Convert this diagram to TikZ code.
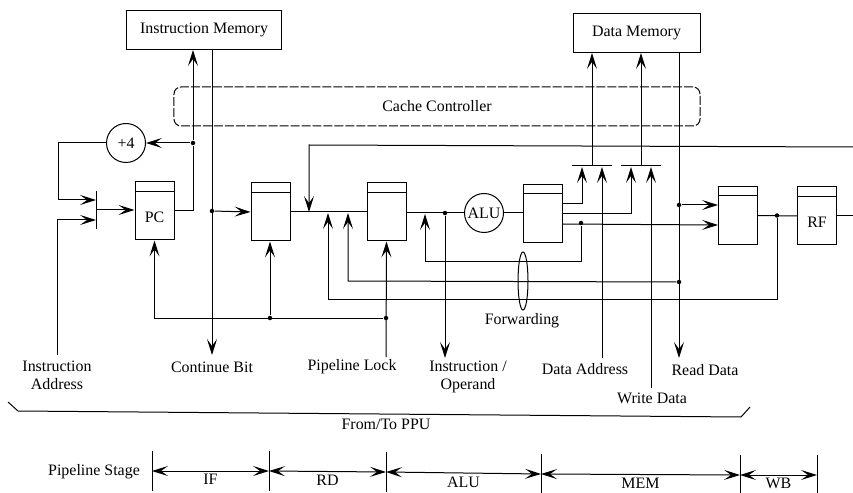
\documentclass[tikz,border=0pt]{standalone}
\usepackage{fontspec}
\setmainfont{Liberation Serif}
\usetikzlibrary{arrows.meta,positioning,shapes.geometric,calc}

\begin{document}
\begin{tikzpicture}[
  x=1bp, y=-1bp,
  every node/.style={font=\fontsize{16}{18}\selectfont, inner sep=0pt},
  every path/.style={line width=1bp},
  memory/.style={draw, minimum height=39bp},
  regbox/.style={draw, minimum width=39bp, minimum height=58bp},
  unit/.style={draw, circle, minimum size=39bp},
  dot/.style={fill, circle, minimum size=4.5bp},
  arr/.style={-{Stealth[length=16pt, width=10pt, inset=7pt]}},
  darr/.style={{Stealth[length=16pt, width=10pt, inset=7pt]}-{Stealth[length=16pt, width=10pt, inset=7pt]}},
  stage/.style={midway, below=3pt}
]
\useasboundingbox (0,0) rectangle (853,493);

%% Memories and cache controller
\node[memory, minimum width=155bp] (imem) at (204,30) {Instruction Memory};
\node[memory, minimum width=127bp] (dmem) at (636.5,33) {Data Memory};
\node[draw, dashed, dash pattern=on 9pt off 2pt, rounded corners=7pt, minimum width=526bp, minimum height=39bp]
  (cache) at (437,106.5) {Cache Controller};

%% Pipeline registers
\node[regbox, label={[yshift=-6pt]center:PC}] (pc) at (154.5,211) {};
\node[regbox] (regrd) at (270.5,212) {};
\node[regbox] (regalu) at (386.5,212) {};
\node[regbox] (regmem) at (543,213.5) {};
\node[regbox] (regwb) at (738,215.5) {};
\node[regbox, label={[yshift=-6pt]center:RF}] (rf) at (817,216) {};
\foreach \r in {pc,regrd,regalu,regmem,regwb,rf}
  \draw ([yshift=-10bp]\r.north west) -- ([yshift=-10bp]\r.north east);
\node[unit] (plus4) at (126,143) {+4};
\node[unit] (alu) at (484,213) {ALU};

%% Select bars
\coordinate (muxpct) at (96,191);
\coordinate (muxpcb) at (96,229);
\coordinate (muxpca) at (96,200);
\coordinate (muxpcc) at (96,220);
\coordinate (muxpco) at (96,210);
\coordinate (mux1l) at (572,166);
\coordinate (mux1r) at (612,166);
\coordinate (mux1o) at (592,166);
\coordinate (mux2l) at (621,166);
\coordinate (mux2r) at (661,166);
\coordinate (mux2o) at (641,166);
\draw (muxpct) -- (muxpcb);
\draw (mux1l) -- (mux1r);
\draw (mux2l) -- (mux2r);

%% Labels at the bottom
\node[align=center] (lbaddr) at (57,375) {Instruction\\Address};
\node (lbcont) at (212,367) {Continue Bit};
\node (lblock) at (352,367) {Pipeline Lock};
\node[align=center] (lboper) at (468,377) {Instruction /\\Operand};
\node (lbdaddr) at (585,369) {Data Address};
\node (lbwdata) at (652,398) {Write Data};
\node (lbrdata) at (705,370) {Read Data};
\node (lbfwd) at (522,321) {Forwarding};
\node (lbppu) at (386,424) {From/To PPU};
\node (lbstage) at (94,472) {Pipeline Stage};

%% Free ends
\coordinate (endaddr) at (57,355);
\coordinate (endcont) at (212,355);
\coordinate (endlock) at (386,357);
\coordinate (endoper) at (445,358);
\coordinate (enddaddr) at (602,358);
\coordinate (endwdata) at (651,388);
\coordinate (endrdata) at (679,358);
\coordinate (endback) at (853,147);
\coordinate (endrf) at (853,216);

%% Junctions
\node[dot] (jpc) at (193,143) {};
\node[dot] (jcont) at (212,211) {};
\node[dot] (jlock1) at (270,318) {};
\node[dot] (jlock2) at (386,318) {};
\node[dot] (joper) at (445,213) {};
\node[dot] (jread) at (679,205) {};
\node[dot] (jfwd1) at (679,282) {};
\node[dot] (jfwd2) at (581,223) {};
\node[dot] (jfwd3) at (777,215.5) {};

%% Fetch
\draw (pc.east) -| (jpc);
\draw[arr] (jpc) -- (jpc |- imem.south);
\draw[arr] (jpc) -- (plus4.east);
\coordinate (turnpc) at (58,200);
\draw[arr] (plus4.west) -| (turnpc) -- (muxpca);
\draw[arr] (endaddr) |- (muxpcc);
\draw[arr] (muxpco) -- (muxpco -| pc.west);
\draw[arr] (endcont |- imem.south) -- (endcont);
\draw[arr] (jcont) -- (regrd.west);

%% Pipeline lock
\draw[arr] (jlock2) -| (pc.south);
\draw[arr] (jlock1) -- (jlock1 |- regrd.south);
\draw[arr] (endlock) -- (regalu.south);

%% Datapath
\draw (regrd.east) -- (regalu.west);
\draw (regalu.east |- alu.west) -- (alu.west);
\draw (alu.east) -- (alu.east -| regmem.west);
\draw[arr] (joper) -- (endoper);
\coordinate (tapback) at (309,212);
\draw[arr] (endback) -- (309,145) -- (tapback);
\draw (regwb.east) -- (rf.west);
\draw (rf.east) -- (endrf);

%% Forwarding paths
\coordinate (tapfwd1) at (328,213);
\coordinate (tapfwd2) at (348,213);
\coordinate (tapfwd3) at (425,214);
\draw[arr] (jfwd3) |- (328,300) -- (tapfwd1);
\draw[arr] (jfwd1) -- (348,281) -- (tapfwd2);
\draw[arr] (jfwd2) |- (425,262) -- (tapfwd3);
\node[draw, ellipse, minimum width=10bp, minimum height=58bp] (fwd) at (523,281) {};

%% Data memory
\draw[arr] (mux1o) -- (mux1o |- dmem.south);
\draw[arr] (mux2o) -- (mux2o |- dmem.south);
\draw[arr] (regmem.east |- 0,204) -| (582,167);
\draw[arr] (regmem.east |- 0,214) -| (631,167);
\draw[arr] (enddaddr) -- (602,167);
\draw[arr] (endwdata) -- (651,167);
\draw[arr] (endrdata |- dmem.south) -- (endrdata);
\draw[arr] (jread) -- (jread -| regwb.west);
\draw[arr] (regmem.east |- 0,224) -- (regwb.west |- 0,225);

%% From/To PPU bracket
\draw (8,402) -- (18,411) -- (741,417) -- (750,407);

%% Pipeline stages
\foreach \n/\x/\y in {0/152/471,1/269/471,2/386/472,3/541/474,4/740/475,5/817/475} {
  \coordinate (st\n) at (\x,\y);
  \draw (\x,\y-20) -- (\x,\y+20);
}
\draw[darr] (st0) -- node[stage]{IF} (st1);
\draw[darr] (st1) -- node[stage]{RD} (st2);
\draw[darr] (st2) -- node[stage]{ALU} (st3);
\draw[darr] (st3) -- node[stage]{MEM} (st4);
\draw[darr] (st4) -- node[stage]{WB} (st5);

\end{tikzpicture}
\end{document}
